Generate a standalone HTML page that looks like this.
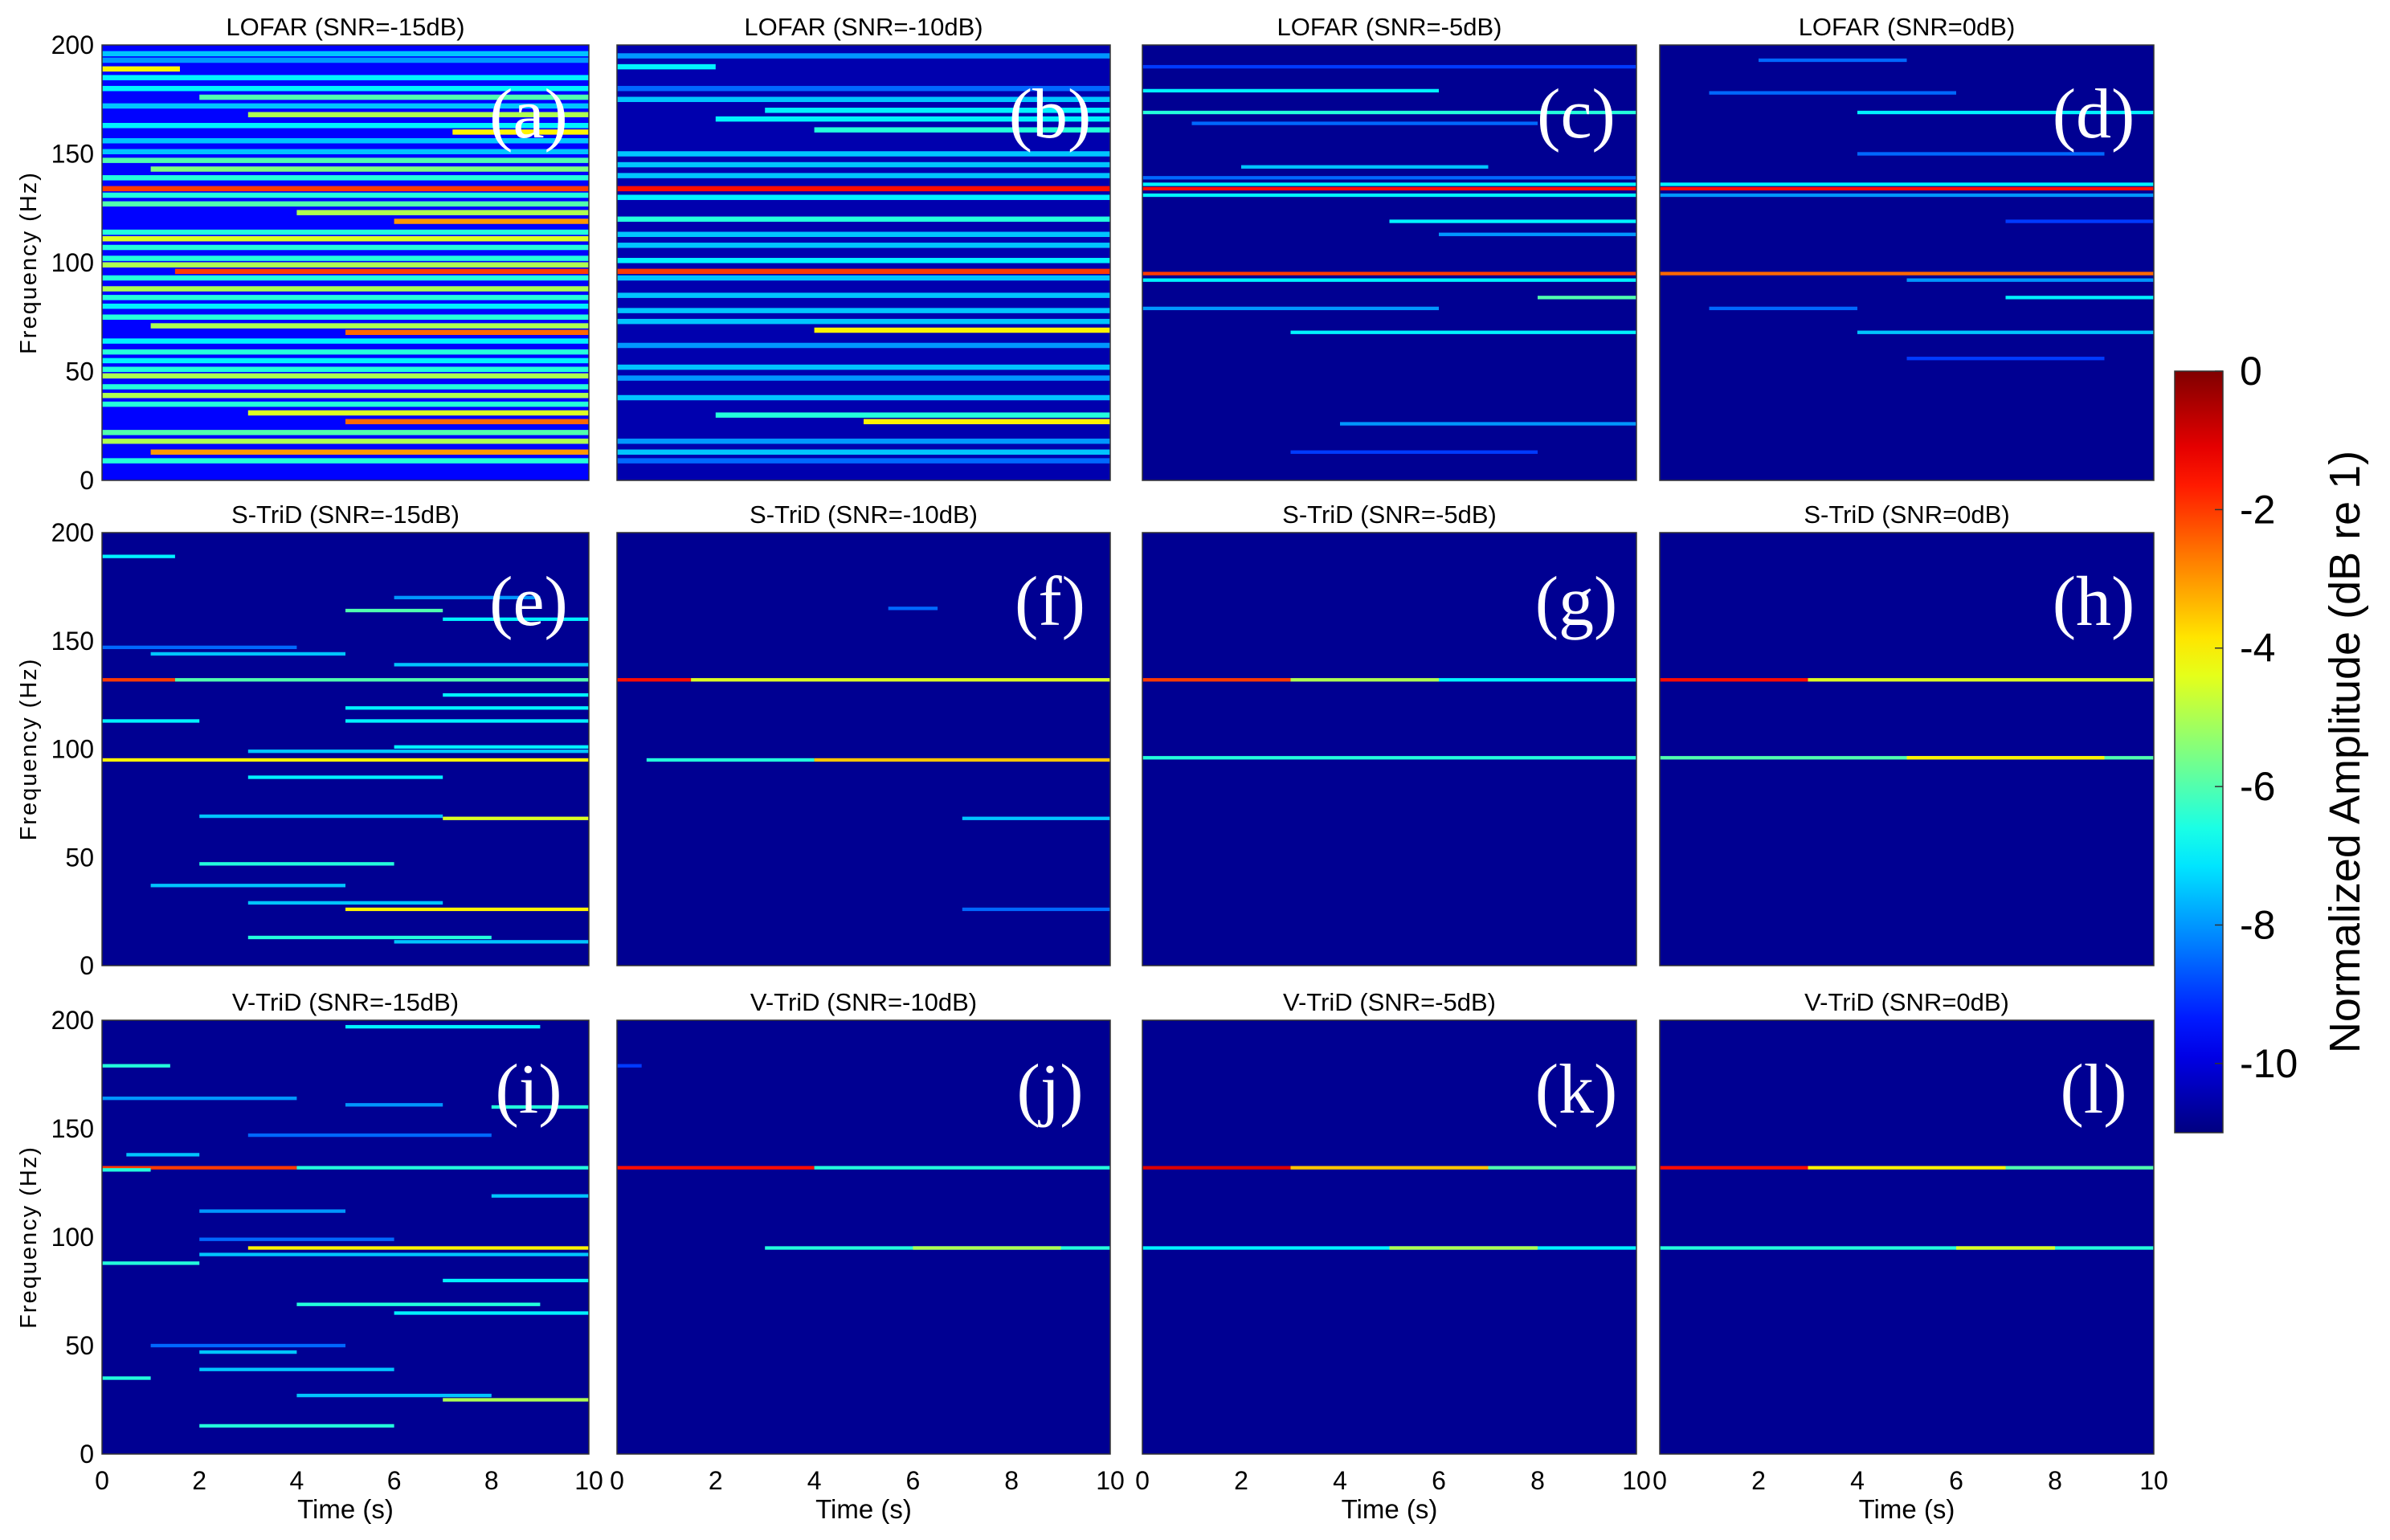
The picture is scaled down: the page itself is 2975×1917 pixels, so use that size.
<!DOCTYPE html>
<html><head><meta charset="utf-8">
<style>
html,body{margin:0;padding:0;background:#fff;}
svg{display:block;font-family:"Liberation Sans",sans-serif;}
</style></head>
<body>
<svg id="chart" width="2975" height="1917" viewBox="0 0 2975 1917" xmlns="http://www.w3.org/2000/svg"></svg>
<script>
// ---- data ----
const panelTitles = ["LOFAR (SNR=-15dB)","LOFAR (SNR=-10dB)","LOFAR (SNR=-5dB)","LOFAR (SNR=0dB)",
  "S-TriD (SNR=-15dB)","S-TriD (SNR=-10dB)","S-TriD (SNR=-5dB)","S-TriD (SNR=0dB)",
  "V-TriD (SNR=-15dB)","V-TriD (SNR=-10dB)","V-TriD (SNR=-5dB)","V-TriD (SNR=0dB)"];
const panelLetters = ["(a)","(b)","(c)","(d)","(e)","(f)","(g)","(h)","(i)","(j)","(k)","(l)"];
const backgroundLevels = [-9.6,-10.5,-10.8,-10.8,-10.8,-10.8,-10.8,-10.8,-10.8,-10.8,-10.8,-10.8];
// line entries: [frequency Hz, start s, end s, level dB]
const linesA = [[196,0,10,-7.5],[193,0,10,-8],[189,0,1.6,-4],[185,0,10,-7],[180,0,10,-7],[176,2,10,-6],[172,0,10,-7.5],[168,3,10,-5],[163,0,10,-7],[160,7.2,10,-4],[156,0,10,-7.5],[151,0,10,-7.5],[147,0,10,-6],[143,1,10,-5.5],[139,0,10,-6.5],[134,0,10,-2],[131,0,10,-6.5],[127,0,10,-6],[123,4,10,-5],[119,6,10,-3],[114,0,10,-6.5],[111,0,10,-4.5],[107,0,10,-6.5],[102,0,10,-6.5],[99,0,10,-5],[96,1.5,10,-2],[93,0,10,-6.5],[88,0,10,-5],[84,0,10,-6.5],[80,0,10,-7],[75,0,10,-6.5],[71,1,10,-5],[68,5,10,-2.5],[64,0,10,-7],[59,0,10,-6.5],[55,0,10,-7],[51,0,10,-6.5],[48,0,10,-5],[43,0,10,-6.5],[39,0,10,-5],[35,0,10,-6.5],[31,3,10,-4.5],[27,5,10,-2.5],[22,0,10,-6],[18,0,10,-5],[13,1,10,-3],[9,0,10,-6.5]];
const linesB = [[195,0,10,-8],[190,0,2,-7],[180,0,10,-8.5],[175,0,10,-7.5],[170,3,10,-7],[166,2,10,-7],[161,4,10,-6.5],[150,0,10,-7.5],[145,0,10,-7.5],[140,0,10,-7.5],[134,0,10,-1.5],[130,0,10,-7],[120,0,10,-6.5],[113,0,10,-7.5],[108,0,10,-7.5],[101,0,10,-7],[96,0,10,-2],[93,0,10,-7.5],[85,0,10,-7.5],[78,0,10,-7.5],[73,0,10,-7.5],[69,4,10,-4],[62,0,10,-8],[52,0,10,-7.5],[47,0,10,-8],[38,0,10,-7.5],[30,2,10,-6.5],[27,5,10,-4],[18,0,10,-8],[13,0,10,-7.5],[9,0,10,-8.5]];
const linesC = [[190,0,10,-9],[179,0,6,-7],[169,0,10,-6.5],[164,1,8,-8.5],[144,2,7,-7.5],[139,0,10,-8.5],[136,0,10,-7],[134,0,10,-1.5],[131,0,10,-7],[119,5,10,-7],[113,6,10,-8],[95,0,10,-2],[92,0,10,-7],[84,8,10,-6],[79,0,6,-8],[68,3,10,-7],[26,4,10,-8],[13,3,8,-9]];
const linesD = [[193,2,5,-8.5],[178,1,6,-8.5],[169,4,10,-7],[150,4,9,-8.5],[136,0,10,-7],[134,0,10,-1.5],[131,0,10,-8],[119,7,10,-9],[95,0,10,-2.5],[92,5,10,-8],[84,7,10,-7],[79,1,4,-8.5],[68,4,10,-7.5],[56,5,9,-9]];
const linesE = [[189,0,1.5,-7],[170,6,9,-8],[164,5,7,-6],[160,7,10,-7],[147,0,4,-8.5],[144,1,5,-7.5],[139,6,10,-7.5],[132,0,1.5,-2],[132,1.5,10,-6],[125,7,10,-7],[119,5,10,-7],[113,5,10,-7],[113,0,2,-7],[101,6,10,-7],[99,3,10,-7.5],[95,0,10,-4],[87,3,7,-7],[69,2,7,-7.5],[68,7,10,-4.5],[47,2,6,-6.5],[37,1,5,-7.5],[29,3,7,-7.5],[26,5,10,-4],[13,3,8,-6.5],[11,6,10,-7.5]];
const linesF = [[165,5.5,6.5,-8.5],[132,0,1.5,-1.5],[132,1.5,10,-4.5],[95,0.6,4,-6.5],[95,4,10,-3.5],[68,7,10,-7.5],[26,7,10,-8.5]];
const linesG = [[132,0,3,-2],[132,3,6,-5],[132,6,10,-7],[96,0,10,-6.5]];
const linesH = [[132,0,3,-1.5],[132,3,10,-4.5],[96,0,10,-6],[96,5,9,-4]];
const linesI = [[197,5,9,-7],[179,0,1.4,-6.5],[164,0,4,-8],[161,5,7,-8],[160,8,10,-6.5],[147,3,8,-8.5],[138,0.5,2,-7.5],[132,0,4,-2],[132,4,10,-6.5],[131,0,1,-6.5],[119,8,10,-7.5],[112,2,5,-8],[99,2,6,-8.5],[95,3,10,-4],[92,2,10,-7.5],[88,0,2,-6.5],[80,7,10,-7],[69,4,9,-6.5],[65,6,10,-7],[50,1,5,-8.5],[47,2,4,-7.5],[39,2,6,-7.5],[35,0,1,-6.5],[27,4,8,-7.5],[25,7,10,-5],[13,2,6,-6.5]];
const linesJ = [[179,0,0.5,-9],[132,0,4,-1.5],[132,4,10,-6.5],[95,3,10,-6.5],[95,6,9,-5]];
const linesK = [[132,0,3,-1],[132,3,7,-3.5],[132,7,10,-6],[95,0,10,-7],[95,5,8,-5]];
const linesL = [[132,0,3,-1.5],[132,3,7,-4],[132,7,10,-6],[95,0,10,-6.5],[95,6,8,-4.5]];
const panelLines = [linesA,linesB,linesC,linesD,linesE,linesF,linesG,linesH,linesI,linesJ,linesK,linesL];
const yTicks = [0,50,100,150,200];
const xTicks = [0,2,4,6,8,10];
const cbTicks = [0,-2,-4,-6,-8,-10];

// ---- layout ----
const colX = [[127,733],[768,1382],[1422,2037],[2066,2681]];
const rowY = [[56,598],[663,1202],[1270,1810]];
const cMin = -11, cMax = 0;
const NS = "http://www.w3.org/2000/svg";
const svg = document.getElementById('chart');
function mk(tag, attrs, parent){const e=document.createElementNS(NS,tag);for(const k in attrs)e.setAttribute(k,attrs[k]);(parent||svg).appendChild(e);return e;}
function jet(v){
  let t=(v-cMin)/(cMax-cMin); t=Math.max(0,Math.min(1,t));
  const f=x=>Math.max(0,Math.min(1,x));
  const r=f(1.5-Math.abs(4*t-3)), g=f(1.5-Math.abs(4*t-2)), b=f(1.5-Math.abs(4*t-1));
  return `rgb(${Math.round(r*255)},${Math.round(g*255)},${Math.round(b*255)})`;
}

for(let p=0;p<12;p++){
  const r=Math.floor(p/4), c=p%4;
  const [x0,x1]=colX[c], [y0,y1]=rowY[r];
  const xs=t=>x0+(t/10)*(x1-x0);
  const ys=f=>y1-(f/200)*(y1-y0);
  const g=mk('g',{});
  
  
  const bg=mk('rect',{x:x0,y:y0,width:x1-x0,height:y1-y0,fill:jet(backgroundLevels[p])},g);
  
  
  const thick = p<2 ? 2.4 : 1.6;
  panelLines[p].forEach(d=>{
    const h=(thick/200)*(y1-y0);
    const ln=mk('rect',{x:xs(d[1]),y:ys(d[0])-h/2,width:xs(d[2])-xs(d[1]),height:h,fill:jet(d[3])},g);
    
    
  });
  const fr=mk('rect',{x:x0,y:y0,width:x1-x0,height:y1-y0,fill:'none',stroke:'#333','stroke-width':1.5},g);
  
  
  const tt=mk('text',{x:(x0+x1)/2,y:y0-12,'text-anchor':'middle','font-size':31,fill:'#000'},g);
  tt.textContent=panelTitles[p];
  
  
  const lt=mk('text',{x:x1-75,y:y0+115,'text-anchor':'middle','font-size':88,fill:'#fff','font-family':'"Liberation Serif",serif'},g);
  lt.textContent=panelLetters[p];
  
  
  if(c===0){
    yTicks.forEach(v=>{
      const tl=mk('text',{x:x0-10,y:ys(v)+11,'text-anchor':'end','font-size':32,fill:'#000'},g);
      tl.textContent=v;
      
      
    });
    const yl=mk('text',{x:0,y:0,'text-anchor':'middle','font-size':29,'letter-spacing':'2',fill:'#000',transform:`translate(45,${(y0+y1)/2}) rotate(-90)`},g);
    yl.textContent='Frequency (Hz)';
    
    
  }
  if(r===2){
    xTicks.forEach(v=>{
      const xl=mk('text',{x:xs(v),y:y1+44,'text-anchor':'middle','font-size':32,fill:'#000'},g);
      xl.textContent=v;
      
      
    });
    const xt=mk('text',{x:(x0+x1)/2,y:y1+80,'text-anchor':'middle','font-size':33,fill:'#000'},g);
    xt.textContent='Time (s)';
    
    
  }
}

// ---- colorbar ----
const cbX0=2707, cbX1=2767, cbY0=462, cbY1=1410;
const cbs=v=>cbY1-((v-cMin)/(cMax-cMin))*(cbY1-cbY0);
const defs=mk('defs',{});
const grad=mk('linearGradient',{id:'jetgrad',x1:0,y1:1,x2:0,y2:0},defs);
for(let i=0;i<=20;i++){const v=cMin+(cMax-cMin)*i/20;mk('stop',{offset:(i/20),'stop-color':jet(v)},grad);}
const cb=mk('rect',{x:cbX0,y:cbY0,width:cbX1-cbX0,height:cbY1-cbY0,fill:'url(#jetgrad)',stroke:'#333','stroke-width':1.5});


cbTicks.forEach(v=>{
  const tk=mk('line',{x1:cbX1-10,x2:cbX1,y1:cbs(v),y2:cbs(v),stroke:'#333','stroke-width':1.5});
  
  
  const tl=mk('text',{x:2788,y:cbs(v)+17,'font-size':50,fill:'#000'});
  tl.textContent=v;
  
  
});
const cl=mk('text',{x:0,y:0,'text-anchor':'middle','font-size':54,fill:'#000',transform:`translate(2937,${(cbY0+cbY1)/2}) rotate(-90)`});
cl.textContent='Normalized Amplitude  (dB re 1)';


</script>
</body></html>
